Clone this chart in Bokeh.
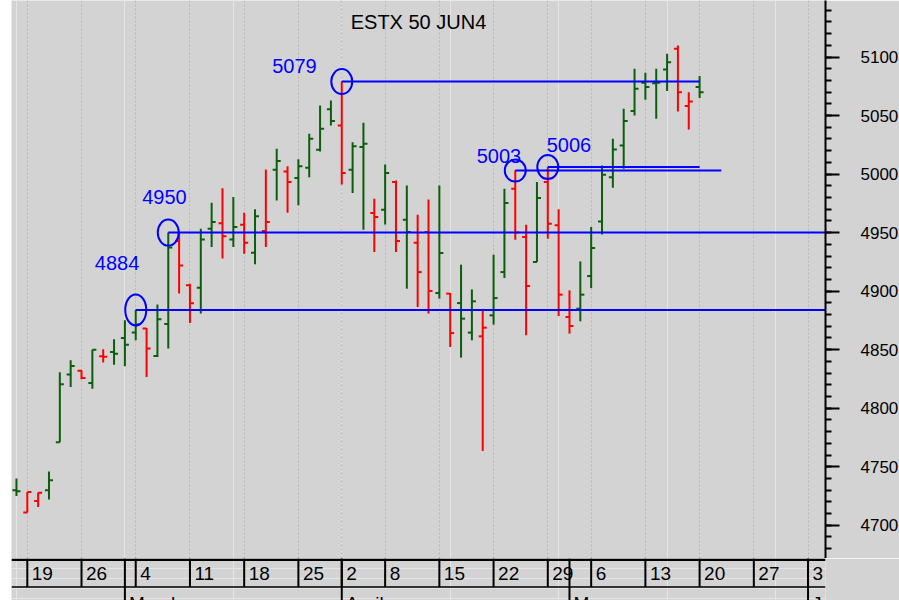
import numpy as np
from bokeh.plotting import figure
from bokeh.layouts import column
from bokeh.models import Range1d, SingleIntervalTicker, Span, Grid, FixedTicker, ColumnDataSource
from bokeh.core.properties import value
from bokeh.embed import file_html
from bokeh.resources import INLINE

# ---------------- data ----------------
title_text = "ESTX 50 JUN4"

# daily OHLC, trading days from 16 Feb 2024 (index 0) to 20 May 2024 (index 63)
opens = [4730, 4711, 4720.8, 4730, 4771, 4828.7, 4832, 4821.5, 4844.4, 4848,
         4860, 4864.6, 4868, 4844.5, 4872, 4942.8, 4905, 4903, 4953.4, 4958,
         4944.2, 4956.8, 4932.9, 4951.3, 5003.8, 5002.3, 4996.6, 5005.4, 5020.8, 5055.3,
         5041.6, 5003.8, 5023.1, 4966.7, 4969.6, 4993.2, 4961, 4941.4, 4950.5, 4898.4,
         4897.9, 4889.8, 4864.6, 4861.4, 4879.3, 4916.3, 4987.5, 4946.2, 4924.9, 4993.2,
         4956.2, 4877.9, 4885, 4912.9, 4959.6, 4997.4, 5024.5, 5053.8, 5078, 5077.5,
         5089.4, 5107.1, 5058.1, 5074.3]
highs = [4740, 4728.5, 4728, 4746, 4830.7, 4840.9, 4832.4, 4850, 4850.3, 4858.8,
         4875.1, 4884, 4868.5, 4888.5, 4950, 4950.5, 4906.4, 4953.4, 4975.6, 4988,
         4980.4, 4967, 4969.9, 5004, 5021.7, 5006.8, 5012.6, 5034.5, 5058.7, 5062.9,
         5079, 5027.3, 5043.9, 4979, 5008.3, 4994.6, 4990.3, 4965.3, 4978.4, 4990.3,
         4898.4, 4922.6, 4901.5, 4883.6, 4931.2, 4987.5, 5003, 4956.8, 4993.2, 5006,
         4969.9, 4900.7, 4925.4, 4954.7, 5007.4, 5030.2, 5055.8, 5090, 5086.6, 5090,
         5102.8, 5109.9, 5070, 5083.7]
lows = [4725, 4710.8, 4715.6, 4722, 4770.9, 4818.1, 4824.7, 4816.7, 4839, 4837.2,
        4835.8, 4858, 4826.6, 4843.7, 4850.9, 4897.9, 4872.8, 4880.8, 4937.7, 4927.8,
        4937.7, 4932, 4922.9, 4937.7, 4977.5, 4967, 4973.3, 4997.4, 5019.4, 5041.6,
        4991.2, 4983.8, 4952.5, 4933.4, 4957, 4933.4, 4902.1, 4886.4, 4880.8, 4893.6,
        4852.3, 4843.2, 4858, 4763.5, 4871.4, 4911.2, 4944, 4862.3, 4924.9, 4944.8,
        4878.7, 4863.7, 4874.2, 4902.6, 4948.3, 4988.4, 5004.6, 5050.1, 5063.5, 5047.3,
        5070.9, 5053.5, 5038.2, 5064.9]
closes = [4729, 4728.4, 4727.8, 4738.4, 4820.4, 4836, 4825.8, 4850, 4844, 4846.6,
          4854.3, 4871.4, 4850.9, 4875.9, 4937.2, 4922, 4889.6, 4944.2, 4959, 4946.8,
          4954.7, 4941.4, 4963.9, 4959, 5011.1, 4993.2, 5006.8, 5030.2, 5038.8, 5045.3,
          5000.9, 5023.7, 5026, 4963.3, 5000.9, 4942.8, 4950.5, 4916.3, 4900.1, 4932.5,
          4864.2, 4876.5, 4891.3, 4868.8, 4894.1, 4975.2, 4950, 4904.4, 4979.5, 4957.6,
          4897, 4870.2, 4897, 4936.8, 4999.5, 5021.1, 5045.3, 5072.9, 5074.3, 5078,
          5095.6, 5070, 5062, 5070]
prior_close = 4726  # close of the session before the first bar

# marked levels
level_text = ["4884", "4950", "5079", "5003", "5006"]
level_vals = [4884, 4950, 5079, 5003, 5006]
level_idx = [11, 14, 30, 46, 49]
level_end = [None, None, 63, 65, 63]  # None = to the right edge

# time axis (trading-day index of each week start / month start)
week_idx = [1, 6, 11, 16, 21, 26, 30, 34, 39, 44, 49, 53, 58, 63, 68, 73]
week_labels = ["19", "26", "4", "11", "18", "25", "2", "8", "15", "22", "29", "6", "13", "20", "27", "3"]
month_idx = [10, 30, 51, 73]
month_labels = ["March", "April", "May", "June"]

# ---------------- style ----------------
BG = "#d3d3d3"
GREEN = "#0b5e0b"
RED = "#ff0000"
BLUE = "#0000ff"
FONT = "Liberation Sans"
X0, X1 = -0.457, 74.61
Y0, Y1 = 4671.6, 5148.3
FRAME_W = 814
TICK = 0.37
label_dx = [-18.7, -3.8, -47.3, -16.3, 21.2]
label_dy = [-46.5, -35.3, -15.9, -15.0, -21.7]
ell_h = [31, 26, 25, 22, 24]

# ---------------- main chart ----------------
p = figure(frame_width=FRAME_W, frame_height=558,
           x_range=Range1d(X0, X1), y_range=Range1d(Y0, Y1),
           x_axis_location=None, y_axis_location="right",
           output_backend="svg", toolbar_location=None,
           min_border_left=0, min_border_right=74, min_border_top=0, min_border_bottom=0,
           background_fill_color=BG, border_fill_color=BG, outline_line_color=None)
p.ygrid.visible = False

p.add_layout(Grid(dimension=0, ticker=FixedTicker(ticks=week_idx),
                  grid_line_color="#b8b8b8", grid_line_dash="2 2", grid_line_width=1))

ax = p.yaxis[0]
ax.ticker = SingleIntervalTicker(interval=50, num_minor_ticks=5)
ax.major_label_text_font = FONT
ax.major_label_text_font_size = "17px"
ax.major_label_text_color = "black"
ax.major_tick_out = 14
ax.major_tick_in = 0
ax.minor_tick_out = 6
ax.minor_tick_in = 0
ax.axis_line_width = 2
ax.major_tick_line_width = 2
ax.minor_tick_line_width = 2
ax.major_label_standoff = 21

c_arr = np.array(closes, dtype=float)
prev = np.concatenate([[prior_close], c_arr[:-1]])
colors = [GREEN if c >= pc else RED for c, pc in zip(c_arr, prev)]
idx = np.arange(len(opens))
src = ColumnDataSource(dict(x=idx, xl=idx - TICK, xr=idx + TICK,
                            o=opens, h=highs, l=lows, c=closes, color=colors))
p.segment(x0="x", x1="x", y0="l", y1="h", line_color="color", line_width=2, source=src)
p.segment(x0="xl", x1="x", y0="o", y1="o", line_color="color", line_width=2, source=src)
p.segment(x0="x", x1="xr", y0="c", y1="c", line_color="color", line_width=2, source=src)

ends = [X1 if e is None else e for e in level_end]
p.segment(x0=level_idx, x1=ends, y0=level_vals, y1=level_vals, line_color=BLUE, line_width=2)
p.ellipse(x=level_idx, y=level_vals, width=21, height=ell_h, width_units="screen",
          height_units="screen", fill_color=None, line_color=BLUE, line_width=2)
p.text(x=level_idx, y=level_vals, text=level_text, x_offset=label_dx, y_offset=label_dy,
       text_align="center", text_baseline="middle", text_color=BLUE,
       text_font=value(FONT), text_font_size="20px")

p.text(x=[(X0 + X1) / 2], y=[Y1], text=[title_text], y_offset=21,
       text_align="center", text_baseline="middle", text_color="black",
       text_font=value(FONT), text_font_size="20px")

# ---------------- date strip ----------------
s = figure(frame_width=FRAME_W, frame_height=42,
           x_range=p.x_range, y_range=Range1d(42, 0),
           x_axis_location=None, y_axis_location=None,
           output_backend="svg", toolbar_location=None,
           min_border_left=0, min_border_right=74, min_border_top=0, min_border_bottom=0,
           background_fill_color=BG, border_fill_color=BG, outline_line_color=None)
s.add_layout(Span(location=1.2, dimension="width", line_color="black", line_width=2.5))
s.add_layout(Span(location=28.5, dimension="width", line_color="black", line_width=1.5))
s.segment(x0=week_idx, x1=week_idx, y0=[0] * len(week_idx), y1=[28.5] * len(week_idx),
          line_color="black", line_width=2)
s.segment(x0=month_idx, x1=month_idx, y0=[0] * len(month_idx), y1=[42] * len(month_idx),
          line_color="black", line_width=2)
s.text(x=week_idx, y=[15.3] * len(week_idx), text=week_labels, x_offset=4.5,
       text_align="left", text_baseline="middle", text_color="black",
       text_font=value(FONT), text_font_size="19px")
s.text(x=month_idx, y=[34] * len(month_idx), text=month_labels, x_offset=4,
       text_align="left", text_baseline="top", text_color="black",
       text_font=value(FONT), text_font_size="19px")

layout = column(p, s, spacing=0, margin=(0, 0, 0, 11))
open("out.html", "w").write(file_html(layout, INLINE))
